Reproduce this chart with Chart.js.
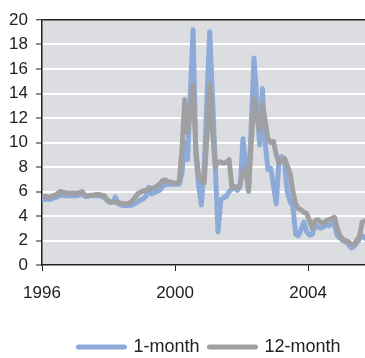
<!DOCTYPE html>
<html>
<head>
<meta charset="utf-8">
<script src="https://cdn.jsdelivr.net/npm/chart.js@4/dist/chart.umd.min.js"></script>
<style>
  html, body { margin: 0; padding: 0; background: #ffffff; }
  #wrap { width: 365px; height: 358px; }
</style>
</head>
<body>
<div id="wrap"><canvas id="c" width="365" height="358"></canvas></div>
<script>
// Monthly interest rates (%), January 1996 onwards
const startYear = 1996;

const oneMonth = [
  5.35, 5.4, 5.35, 5.4, 5.5, 5.55, 5.7, 5.7, 5.65, 5.65, 5.65, 5.65,      // 1996
  5.65, 5.7, 5.8, 5.6, 5.6, 5.65, 5.65, 5.65, 5.65, 5.6, 5.5, 5.25,       // 1997
  5.1, 5.15, 5.55, 5.0, 4.9, 4.85, 4.85, 4.85, 4.9, 5.0, 5.15, 5.3,       // 1998
  5.4, 5.6, 6.35, 5.8, 5.9, 6.0, 6.1, 6.4, 6.6, 6.6, 6.6, 6.6,            // 1999
  6.6, 6.6, 7.5, 10.0, 8.6, 14.0, 19.2, 9.0, 6.5, 4.9, 8.0, 13.5,         // 2000
  19.05, 13.7, 8.2, 2.7, 5.3, 5.5, 5.6, 6.0, 6.2, 6.3, 6.1, 6.4,          // 2001
  10.3, 8.1, 6.0, 11.5, 16.9, 13.3, 9.8, 14.4, 9.95, 7.8, 7.9, 6.5,       // 2002
  5.0, 8.6, 8.85, 8.3, 6.0, 5.2, 4.8, 2.5, 2.4, 2.9, 3.5, 2.7,            // 2003
  2.45, 2.5, 3.3, 3.1, 3.0, 3.1, 3.3, 3.2, 3.4, 3.3, 2.4, 2.2,            // 2004
  2.0, 1.9, 1.7, 1.4, 1.5, 1.8, 2.1, 2.4, 2.2                             // 2005
];

const twelveMonth = [
  5.6, 5.6, 5.5, 5.6, 5.7, 5.8, 6.0, 5.95, 5.9, 5.85, 5.85, 5.85,         // 1996
  5.85, 5.9, 6.0, 5.7, 5.65, 5.7, 5.7, 5.75, 5.75, 5.7, 5.65, 5.35,       // 1997
  5.15, 5.15, 5.15, 5.1, 5.05, 5.0, 5.0, 5.05, 5.2, 5.5, 5.8, 5.95,       // 1998
  6.05, 6.1, 6.15, 6.25, 6.3, 6.45, 6.6, 6.9, 6.95, 6.8, 6.75, 6.7,       // 1999
  6.7, 6.8, 9.5, 13.5, 10.8, 12.5, 14.7, 9.5, 7.2, 6.9, 6.7, 10.5,        // 2000
  14.8, 11.0, 8.0, 8.4, 8.4, 8.3, 8.4, 8.6, 6.3, 6.4, 6.3, 6.6,           // 2001
  7.6, 7.9, 6.1, 10.0, 13.6, 12.0, 11.0, 13.1, 11.8, 10.3, 10.0, 10.1,    // 2002
  9.0, 8.3, 8.5, 8.7, 8.1, 7.5, 6.0, 5.0, 4.6, 4.5, 4.3, 4.2,             // 2003
  3.6, 3.0, 3.6, 3.7, 3.5, 3.4, 3.6, 3.7, 3.8, 3.9, 3.0, 2.4,             // 2004
  2.1, 2.0, 1.9, 1.7, 1.7, 2.0, 2.3, 3.5, 3.6                             // 2005
];

const seriesNames = ['1-month', '12-month'];
const xTickYears = [1996, 2000, 2004];
const yMin = 0, yMax = 20, yStep = 2;
const xMax = 2005.71;

// each monthly value sits at the middle of its month
const toPoints = vals => vals.map((v, i) => ({ x: startYear + (i + 0.5) / 12, y: v }));

const FONT = 'Liberation Sans, Arial, Helvetica, sans-serif';
const INK = '#222222';
const LINE_WIDTH = 5;

// grey plotting area behind the grid
const plotBackground = {
  id: 'plotBackground',
  beforeDraw(chart) {
    const { ctx, chartArea: a } = chart;
    ctx.save();
    ctx.fillStyle = '#dcdde0';
    ctx.fillRect(a.left, a.top, a.right - a.left, a.bottom - a.top);
    ctx.restore();
  }
};

// nudge the legend row slightly right, under the plot
const legendShift = {
  id: 'legendShift',
  afterLayout(chart) {
    if (chart.legend) { chart.legend.left += 6; chart.legend.right += 6; }
  }
};

new Chart(document.getElementById('c'), {
  type: 'line',
  data: {
    datasets: [
      { label: seriesNames[0], data: toPoints(oneMonth), borderColor: '#8eaad8', backgroundColor: '#8eaad8', order: 1 },
      { label: seriesNames[1], data: toPoints(twelveMonth), borderColor: '#a0a0a2', backgroundColor: '#a0a0a2', order: 0 }
    ]
  },
  options: {
    responsive: false,
    devicePixelRatio: 1,
    animation: false,
    layout: { padding: { top: 20, right: 0, left: 0, bottom: -8 } },
    elements: {
      point: { radius: 0, hoverRadius: 0 },
      line: { tension: 0, borderWidth: LINE_WIDTH, borderCapStyle: 'round', borderJoinStyle: 'round', fill: false }
    },
    plugins: {
      tooltip: { enabled: false },
      legend: {
        position: 'bottom',
        fullSize: false,
        labels: {
          usePointStyle: true,
          pointStyle: 'line',
          pointStyleWidth: 46,
          padding: 10,
          color: INK,
          font: { family: FONT, size: 18 },
          sort: (a, b) => a.datasetIndex - b.datasetIndex,
          generateLabels: chart => {
            const items = Chart.defaults.plugins.legend.labels.generateLabels(chart);
            return items.map(it => {
              const ds = chart.data.datasets[it.datasetIndex];
              return Object.assign(it, {
                lineWidth: LINE_WIDTH,
                lineCap: 'round',
                strokeStyle: ds.borderColor,
                fillStyle: ds.borderColor
              });
            });
          }
        }
      }
    },
    scales: {
      x: {
        type: 'linear',
        min: startYear,
        max: xMax,
        afterFit: s => { s.height = 63; },
        afterBuildTicks: s => { s.ticks = xTickYears.map(v => ({ value: v })); },
        grid: { drawOnChartArea: false, drawTicks: true, tickLength: 6, tickColor: INK, tickWidth: 1 },
        border: { color: INK, width: 1.5 },
        ticks: {
          includeBounds: false,
          autoSkip: false,
          maxRotation: 0,
          padding: 12,
          color: INK,
          font: { family: FONT, size: 17 },
          callback: v => String(v)
        }
      },
      y: {
        min: yMin,
        max: yMax,
        afterFit: s => { s.width = 42; },
        grid: {
          color: c => c.tick.value === yMax ? INK : (c.tick.value === yMin ? 'rgba(0,0,0,0)' : '#ffffff'),
          lineWidth: c => c.tick.value === yMax ? 1.5 : 2,
          drawTicks: true,
          tickLength: 6,
          tickColor: INK,
          tickWidth: 1
        },
        border: { color: INK, width: 1.5 },
        ticks: {
          stepSize: yStep,
          padding: 8,
          color: INK,
          font: { family: FONT, size: 17 }
        }
      }
    }
  },
  plugins: [plotBackground, legendShift]
});
</script>
</body>
</html>
